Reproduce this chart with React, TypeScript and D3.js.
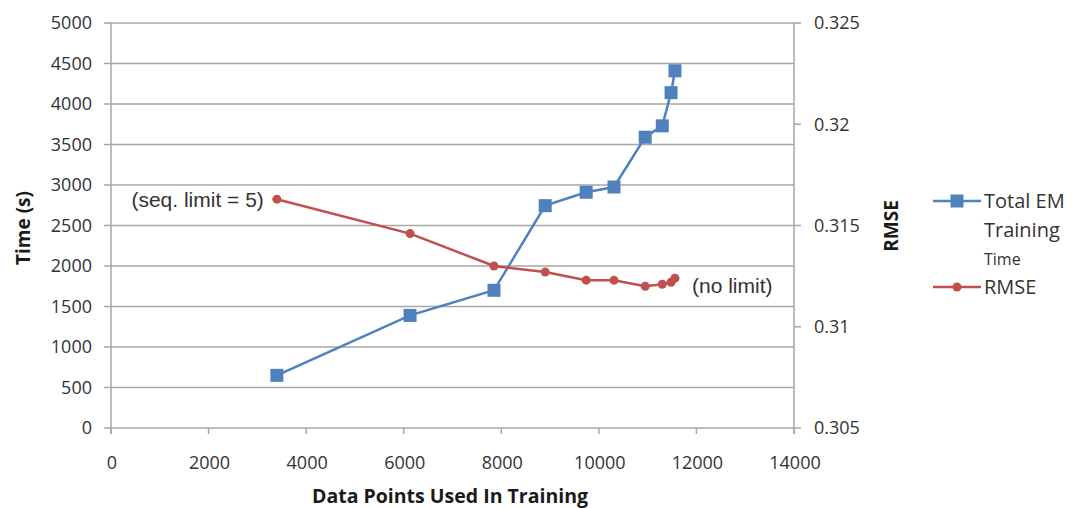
import React from "react";
import * as d3 from "d3";

const xValues = [3400, 6130, 7850, 8900, 9740, 10310, 10950, 11300, 11480, 11560];
const timeValues = [650, 1390, 1700, 2745, 2910, 2975, 3590, 3730, 4140, 4410];
const rmseValues = [0.3163, 0.3146, 0.313, 0.3127, 0.3123, 0.3123, 0.312, 0.3121, 0.3122, 0.3124];
const xTicks = [0, 2000, 4000, 6000, 8000, 10000, 12000, 14000];
const leftTicks = [0, 500, 1000, 1500, 2000, 2500, 3000, 3500, 4000, 4500, 5000];
const rightTicks = [0.305, 0.31, 0.315, 0.32, 0.325];
const seriesNames = ["Total EM", "Training", "Time", "RMSE"];

const W = 1073;
const H = 508;
const m = { left: 111, right: 794, top: 23, bottom: 428 };
const BLUE = "#4F81BD";
const RED = "#C0504D";
const GRID = "#A6A6A6";
const TXT = "#333333";
const FONT = "'Open Sans', 'Liberation Sans', sans-serif";
const AFONT = "'Liberation Sans', Arial, sans-serif";

export default function App() {
  const x = d3.scaleLinear().domain([0, 14000]).range([m.left, m.right]);
  const yL = d3.scaleLinear().domain([0, 5000]).range([m.bottom, m.top]);
  const yR = d3.scaleLinear().domain([0.305, 0.325]).range([m.bottom, m.top]);

  const timeLine = d3
    .line<number>()
    .x((_, i) => x(xValues[i]))
    .y((d) => yL(d))(timeValues) as string;
  const rmseLine = d3
    .line<number>()
    .x((_, i) => x(xValues[i]))
    .y((d) => yR(d))(rmseValues) as string;

  const fmtR = (v: number) => String(+v.toFixed(3));
  const last = xValues.length - 1;

  return (
    <svg
      width={W}
      height={H}
      style={{ position: "absolute", left: 0, top: 0, background: "#fff" }}
      fontFamily={FONT}
    >
      {/* gridlines */}
      {leftTicks.map((t) => (
        <line key={"g" + t} x1={m.left - 7} x2={m.right} y1={yL(t)} y2={yL(t)} stroke={GRID} strokeWidth={1.5} />
      ))}
      {/* left axis */}
      <line x1={m.left} x2={m.left} y1={m.top} y2={m.bottom + 6} stroke={GRID} strokeWidth={1.5} />
      {/* right axis */}
      <line x1={m.right} x2={m.right} y1={m.top} y2={m.bottom + 6} stroke={GRID} strokeWidth={1.5} />
      {rightTicks.map((t) => (
        <line key={"rt" + t} x1={m.right} x2={m.right + 7} y1={yR(t)} y2={yR(t)} stroke={GRID} strokeWidth={1.5} />
      ))}
      {/* bottom ticks */}
      {xTicks.map((t) => (
        <line key={"xt" + t} x1={x(t)} x2={x(t)} y1={m.bottom} y2={m.bottom + 6} stroke={GRID} strokeWidth={1.5} />
      ))}
      {/* tick labels */}
      {leftTicks.map((t) => (
        <text key={"lt" + t} x={m.left - 19} y={yL(t)} dy="0.35em" textAnchor="end" fontSize={18} fill={TXT}>
          {t}
        </text>
      ))}
      {rightTicks.map((t) => (
        <text key={"rl" + t} x={m.right + 20} y={yR(t)} dy="0.35em" textAnchor="start" fontSize={18} fill={TXT}>
          {fmtR(t)}
        </text>
      ))}
      {xTicks.map((t) => (
        <text key={"xl" + t} x={x(t) + 1} y={m.bottom + 41} textAnchor="middle" fontSize={18} fill={TXT}>
          {t}
        </text>
      ))}
      {/* axis titles */}
      <text x={450} y={503} textAnchor="middle" fontSize={19.5} fontWeight="bold" fill="#1a1a1a">
        Data Points Used In Training
      </text>
      <text transform={`translate(30,228) rotate(-90)`} textAnchor="middle" fontSize={19} fontWeight="bold" fill="#1a1a1a">
        Time (s)
      </text>
      <text transform={`translate(898,226) rotate(-90)`} textAnchor="middle" fontSize={19} fontWeight="bold" fill="#1a1a1a">
        RMSE
      </text>
      {/* series */}
      <path d={timeLine} fill="none" stroke={BLUE} strokeWidth={2.5} />
      {xValues.map((xv, i) => (
        <rect key={"b" + i} x={x(xv) - 6.5} y={yL(timeValues[i]) - 6.5} width={13} height={13} fill={BLUE} />
      ))}
      <path d={rmseLine} fill="none" stroke={RED} strokeWidth={2.5} />
      {xValues.map((xv, i) => (
        <circle key={"r" + i} cx={x(xv)} cy={yR(rmseValues[i])} r={4.5} fill={RED} />
      ))}
      {/* annotations */}
      <text x={x(xValues[0]) - 13} y={yR(rmseValues[0])} dy="0.35em" textAnchor="end" fontSize={21} fill={TXT} fontFamily={AFONT}>
        (seq. limit = 5)
      </text>
      <text x={x(xValues[last]) + 17} y={yR(rmseValues[last]) + 7} dy="0.35em" textAnchor="start" fontSize={21} fill={TXT} fontFamily={AFONT}>
        (no limit)
      </text>
      {/* legend */}
      <line x1={933} x2={981} y1={201} y2={201} stroke={BLUE} strokeWidth={2.5} />
      <rect x={950.5} y={194.5} width={13} height={13} fill={BLUE} />
      <text x={984} y={201} dy="0.35em" fontSize={20} fill={TXT}>{seriesNames[0]}</text>
      <text x={984} y={230} dy="0.35em" fontSize={20} fill={TXT}>{seriesNames[1]}</text>
      <text x={984} y={259} dy="0.35em" fontSize={16} fill={TXT}>{seriesNames[2]}</text>
      <line x1={933} x2={981} y1={287} y2={287} stroke={RED} strokeWidth={2.5} />
      <circle cx={957} cy={287} r={4.5} fill={RED} />
      <text x={984} y={287} dy="0.35em" fontSize={20} fill={TXT}>{seriesNames[3]}</text>
    </svg>
  );
}
